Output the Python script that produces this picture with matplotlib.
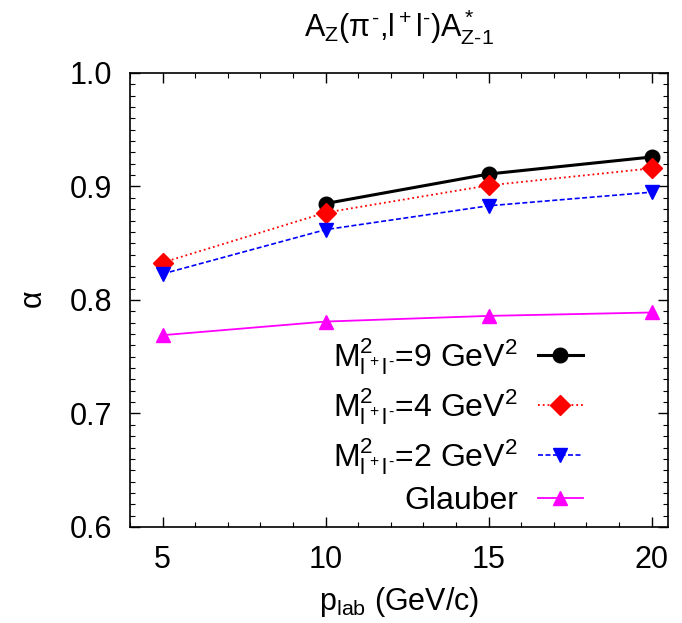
import matplotlib
matplotlib.use("Agg")
import matplotlib.pyplot as plt
from matplotlib.ticker import MultipleLocator, FormatStrFormatter

plt.rcParams['font.family'] = ['Liberation Sans', 'DejaVu Sans']
plt.rcParams['mathtext.fontset'] = 'custom'
plt.rcParams['mathtext.rm'] = 'Liberation Sans'
plt.rcParams['mathtext.it'] = 'Liberation Sans'
plt.rcParams['mathtext.sf'] = 'Liberation Sans'

# momentum values (GeV/c)
p_lab = [5, 10, 15, 20]
p_lab_9 = [10, 15, 20]

alpha_m9 = [0.885, 0.911, 0.926]
alpha_m4 = [0.833, 0.877, 0.901, 0.916]
alpha_m2 = [0.823, 0.862, 0.883, 0.895]
alpha_glauber = [0.769, 0.781, 0.786, 0.789]

labels = [r'M$^2_{l^+l^\text{-}}$=9 GeV$^2$',
          r'M$^2_{l^+l^\text{-}}$=4 GeV$^2$',
          r'M$^2_{l^+l^\text{-}}$=2 GeV$^2$',
          'Glauber']

FS = 22

fig = plt.figure(figsize=(6.82, 6.23), dpi=100)
ax = fig.add_axes([130 / 682, (623 - 527) / 623, 538 / 682, 454 / 623])

ax.plot(p_lab_9, alpha_m9, '-', color='black', lw=2.2, marker='o', ms=10.5,
        label=labels[0])
ax.plot(p_lab, alpha_m4, ':', color='red', lw=1.3, marker='D', ms=10,
        label=labels[1])
ax.plot(p_lab, alpha_m2, '--', color='blue', lw=1.2, marker='v', ms=10.5,
        dashes=(3, 1.5), label=labels[2])
ax.plot(p_lab, alpha_glauber, '-', color='magenta', lw=1.3, marker='^', ms=10.5,
        label=labels[3])

ax.set_xlim(4, 20.5)
ax.set_ylim(0.6, 1.0)
ax.xaxis.set_major_locator(MultipleLocator(5))
ax.xaxis.set_minor_locator(MultipleLocator(1))
ax.yaxis.set_major_locator(MultipleLocator(0.1))
ax.yaxis.set_minor_locator(MultipleLocator(0.01))
ax.yaxis.set_major_formatter(FormatStrFormatter('%.1f'))
ax.tick_params(which='both', direction='in', top=True, right=True,
               labelsize=FS, pad=13)
ax.tick_params(which='major', length=7, width=1)
ax.tick_params(which='minor', length=3.5, width=0.8)
for s in ax.spines.values():
    s.set_linewidth(1.2)

ax.set_xlabel(r'p$_{lab}$ (GeV/c)', fontsize=FS, labelpad=7)
ax.set_ylabel(r'$\alpha$', fontsize=FS, labelpad=15)
ax.set_title(r'A$_Z$($\pi^\text{-}$,l$^+$l$^\text{-}$)A$^*_{Z\text{-}1}$',
             fontsize=FS, pad=26)

ax.legend(loc='lower right', bbox_to_anchor=(0.865, -0.005), frameon=False,
          markerfirst=False, fontsize=23, handlelength=1.4,
          labelspacing=0.3, borderaxespad=0.0, handletextpad=0.62)

fig.savefig('out.png', dpi=100)
